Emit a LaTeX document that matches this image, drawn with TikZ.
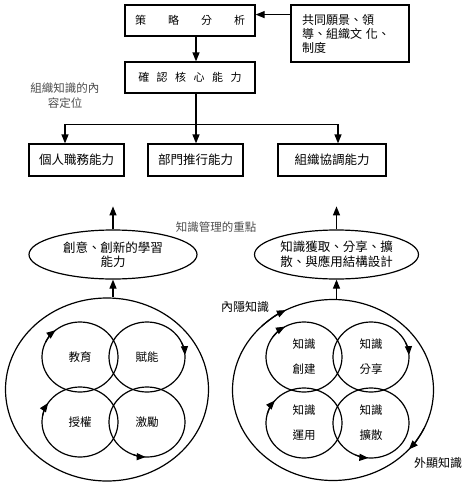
\documentclass[tikz,border=0pt]{standalone}
\usepackage{fontspec}
\usepackage{tikz}
\usetikzlibrary{arrows.meta, shapes.geometric, calc}
\newfontfamily\cjk{Noto Sans CJK TC}

\begin{document}
\begin{tikzpicture}[x=1pt, y=1pt, line width=1.2pt,
  box/.style={draw, rectangle, inner sep=0pt, font=\cjk\fontsize{11}{14}\selectfont},
  oval/.style={draw, ellipse, inner sep=0pt, align=center, font=\cjk\fontsize{12.5}{14.5}\selectfont},
  ring/.style={draw, ellipse, inner sep=0pt, minimum width=76pt, minimum height=70pt,
    align=center, font=\cjk\fontsize{11.5}{25}\selectfont},
  env/.style={draw, ellipse, inner sep=0pt},
  note/.style={font=\cjk\fontsize{11.5}{15}\selectfont, text=black!70, align=center},
  tag/.style={font=\cjk\fontsize{12}{13}\selectfont},
  arr/.style={-{Triangle[length=9pt,width=7pt]}}]
\useasboundingbox (0,0) rectangle (475,-485);
% upper chart
\node[box, minimum width=130pt, minimum height=31pt] (strat) at (190,-20.5)
  {策\hspace{22pt}略\hspace{22pt}分\hspace{22pt}析};
\node[box, minimum width=118pt, minimum height=57pt, text width=96pt, align=left,
  font=\cjk\fontsize{12}{14}\selectfont] (vision) at (350,-33.5)
  {共同願景、領\\導、組織文 化、\\制度};
\node[box, minimum width=130pt, minimum height=31pt] (core) at (190,-77.5)
  {確\hspace{7.5pt}認\hspace{7.5pt}核\hspace{7.5pt}心\hspace{7.5pt}能\hspace{7.5pt}力};
\node[note] (kpos) at (65,-95.5) {組織知識的內\\容定位};
\node[box, minimum width=95pt, minimum height=32pt, font=\cjk\fontsize{12.5}{14}\selectfont] (pers) at (76.5,-160) {個人職務能力};
\node[box, minimum width=95pt, minimum height=32pt, font=\cjk\fontsize{12.5}{14}\selectfont] (dept) at (195.5,-160) {部門推行能力};
\node[box, minimum width=108pt, minimum height=32pt, font=\cjk\fontsize{12.5}{14}\selectfont] (orgc) at (332,-160) {組織協調能力};
\coordinate (vin) at ($(vision.north west)!0.175!(vision.south west)$);
\draw[arr] (vin) -- (vin -| strat.east);
\draw[arr] ([xshift=6pt]strat.south) -- ([xshift=6pt]core.north);
\draw ([xshift=6pt]core.south) -- ++(0,-31) coordinate (fork);
\draw[arr] (fork) -| ([xshift=-11.5pt]pers.north);
\draw[arr] (fork) -- (fork |- dept.north);
\draw[arr] (fork) -| ([xshift=6pt]orgc.north);
% focus of knowledge management
\node[note] (kmfocus) at (216,-227) {知識管理的重點};
\node[oval, minimum width=168pt, minimum height=49pt] (learn) at (113,-254.5) {創意、創新的學習\\能力};
\node[oval, minimum width=164pt, minimum height=49pt] (design) at (336.5,-254.5) {知識獲取、分享、擴\\散、與應用結構設計};
\draw[arr] (learn.north) -- ++(0,23);
\draw[arr] (design.north) -- ++(0,23);
% left cycle
\node[env, minimum width=203pt, minimum height=183pt] (envL) at (107,-389.5) {};
\node[ring] (edu) at (80,-357) {教育};
\node[ring] (enab) at (147,-357) {賦能};
\node[ring] (auth) at (80,-422) {授權};
\node[ring] (motiv) at (147,-422) {激勵};
\draw[arr] (learn.south |- envL.north) -- (learn.south);
% right cycle
\node[env, minimum width=201pt, minimum height=181pt] (envR) at (333,-390) {};
\node[ring] (create) at (304,-357) {知識\\創建};
\node[ring] (share) at (371,-357) {知識\\分享};
\node[ring] (apply) at (304,-423) {知識\\運用};
\node[ring] (spread) at (371,-423) {知識\\擴散};
\draw[arr] (design.south |- envR.north) -- (design.south);
\node[tag] (tacit) at (245,-307) {內隱知識};
\node[tag] (explicit) at (438,-463) {外顯知識};
% arrow heads on the rings
\foreach \n/\a/\b in {edu/155/130, enab/25/3, auth/170/147, motiv/248/268,
                      create/145/120, share/25/3, apply/165/140, spread/246/266}
  \draw[arr] ($(\n.center)+(\a:38pt and 35pt)$) arc[start angle=\a, end angle=\b, x radius=38pt, y radius=35pt];
\draw[arr] ($(envR.center)+(135:100.5pt and 90.5pt)$) arc[start angle=135, end angle=118, x radius=100.5pt, y radius=90.5pt];
\draw[arr] ($(envR.center)+(-25:100.5pt and 90.5pt)$) arc[start angle=-25, end angle=-41, x radius=100.5pt, y radius=90.5pt];
\end{tikzpicture}
\end{document}
